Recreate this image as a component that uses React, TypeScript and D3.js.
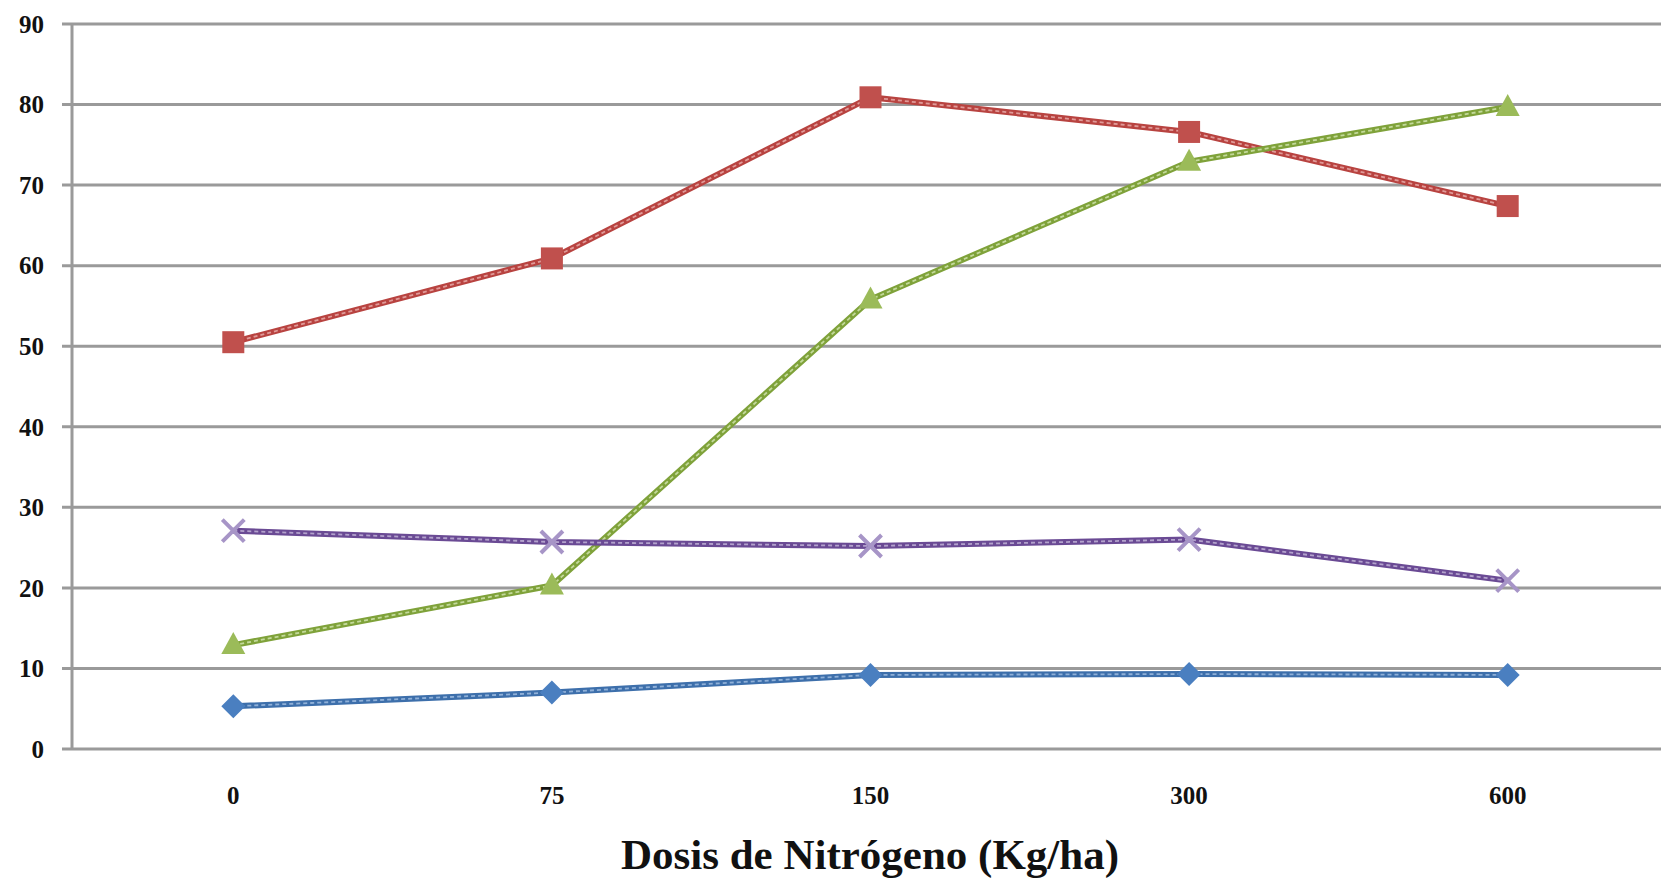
import React from "react";
import * as d3 from "d3";

const categories = ["0", "75", "150", "300", "600"];
const blueSeries = [5.3, 7.0, 9.2, 9.3, 9.2];
const redSeries = [50.5, 60.9, 80.9, 76.6, 67.4];
const greenSeries = [12.9, 20.3, 55.8, 72.9, 79.7];
const purpleSeries = [27.1, 25.7, 25.2, 26.0, 20.9];
const yTicks = [0, 10, 20, 30, 40, 50, 60, 70, 80, 90];
const xTitle = "Dosis de Nitrógeno (Kg/ha)";

const W = 1661;
const H = 881;
const left = 72;
const right = 1661;
const top = 24;
const bottom = 749;

export default function App() {
  const x = d3.scaleBand<string>().domain(categories).range([left + 2, right + 6]);
  const y = d3.scaleLinear().domain([0, 90]).range([bottom, top]);
  const cx = (c: string) => (x(c) as number) + x.bandwidth() / 2;
  const line = d3
    .line<number>()
    .x((_, i) => cx(categories[i]))
    .y((d) => y(d));

  const series = [
    { data: blueSeries, color: "#3d6fab", light: "#8fb0d8", marker: "diamond", mcolor: "#4a7fc0" },
    { data: redSeries, color: "#b84340", light: "#e09a98", marker: "square", mcolor: "#c0504d" },
    { data: greenSeries, color: "#7fa23a", light: "#c3d99a", marker: "triangle", mcolor: "#9bbb59" },
    { data: purpleSeries, color: "#6a4a94", light: "#b3a2cc", marker: "x", mcolor: "#a795c7" },
  ];

  const font = "'Liberation Serif', 'DejaVu Serif', serif";

  const marker = (type: string, px: number, py: number, color: string, key: string) => {
    if (type === "square") {
      return <rect key={key} x={px - 11} y={py - 11} width={22} height={22} fill={color} />;
    }
    if (type === "diamond") {
      const s = 12;
      return (
        <path
          key={key}
          d={`M${px},${py - s}L${px + s},${py}L${px},${py + s}L${px - s},${py}Z`}
          fill={color}
        />
      );
    }
    if (type === "triangle") {
      return (
        <path
          key={key}
          d={`M${px},${py - 13}L${px + 12},${py + 9}L${px - 12},${py + 9}Z`}
          fill={color}
        />
      );
    }
    const s = 11;
    return (
      <path
        key={key}
        d={`M${px - s},${py - s}L${px + s},${py + s}M${px + s},${py - s}L${px - s},${py + s}`}
        stroke={color}
        strokeWidth={4}
        fill="none"
      />
    );
  };

  return (
    <div style={{ position: "absolute", left: 0, top: 0 }}>
      <svg width={W} height={H} style={{ display: "block", background: "#fff" }}>
        {yTicks.map((t) => (
          <g key={t}>
            <line x1={left - 10} x2={right} y1={y(t)} y2={y(t)} stroke="#9a9a9a" strokeWidth={3} />
            <text
              x={44}
              y={y(t)}
              dy="0.35em"
              textAnchor="end"
              fontFamily={font}
              fontWeight="bold"
              fontSize={25}
              fill="#111"
            >
              {t}
            </text>
          </g>
        ))}
        <line x1={left} x2={left} y1={top} y2={bottom} stroke="#9a9a9a" strokeWidth={3} />
        {categories.map((c) => (
          <text
            key={c}
            x={cx(c)}
            y={795}
            dy="0.35em"
            textAnchor="middle"
            fontFamily={font}
            fontWeight="bold"
            fontSize={25}
            fill="#111"
          >
            {c}
          </text>
        ))}
        <text
          x={870}
          y={869}
          textAnchor="middle"
          fontFamily={font}
          fontWeight="bold"
          fontSize={43}
          fill="#111"
        >
          {xTitle}
        </text>
        {series.map((s, si) => (
          <g key={si}>
            <path d={line(s.data) || ""} fill="none" stroke={s.color} strokeWidth={6} strokeLinejoin="round" />
            <path
              d={line(s.data) || ""}
              fill="none"
              stroke={s.light}
              strokeWidth={1.8}
              strokeDasharray="4 3"
              strokeLinejoin="round"
            />
            {s.data.map((v, i) => marker(s.marker, cx(categories[i]), y(v), s.mcolor, `${si}-${i}`))}
          </g>
        ))}
      </svg>
    </div>
  );
}
